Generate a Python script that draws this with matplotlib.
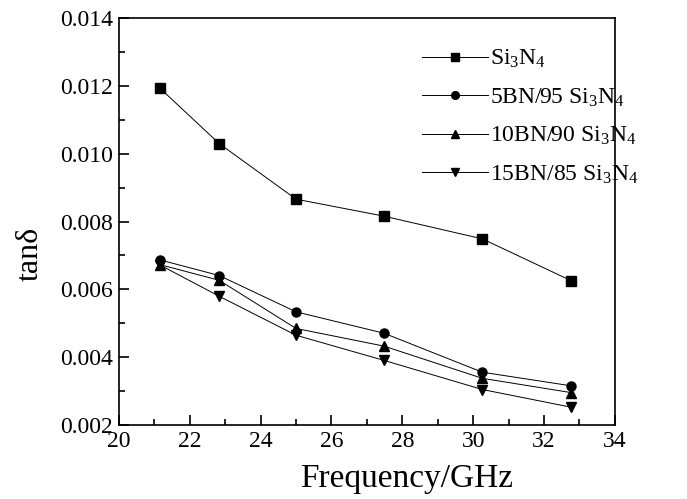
import matplotlib
matplotlib.use("Agg")
import matplotlib.pyplot as plt
from matplotlib.ticker import MultipleLocator, FormatStrFormatter

plt.rcParams['font.family'] = ['Liberation Serif', 'DejaVu Serif']
plt.rcParams['mathtext.fontset'] = 'custom'
plt.rcParams['mathtext.rm'] = 'Liberation Serif'
plt.rcParams['mathtext.it'] = 'Liberation Serif:italic'

freq = [21.16, 22.83, 25.0, 27.48, 30.26, 32.76]
si3n4 = [0.01193, 0.0103, 0.00866, 0.00816, 0.00749, 0.00626]
bn5 = [0.00687, 0.00641, 0.00534, 0.00471, 0.00356, 0.00316]
bn10 = [0.00673, 0.00627, 0.00485, 0.00433, 0.00338, 0.00296]
bn15 = [0.00672, 0.00580, 0.00465, 0.00391, 0.00305, 0.00253]

series = [
    (si3n4, 's', 'Si$_3$N$_4$'),
    (bn5, 'o', '5BN/95 Si$_3$N$_4$'),
    (bn10, '^', '10BN/90 Si$_3$N$_4$'),
    (bn15, 'v', '15BN/85 Si$_3$N$_4$'),
]

fig = plt.figure(figsize=(6.87, 4.99), dpi=100)
ax = fig.add_axes([0.173, 0.148, 0.722, 0.816])

for vals, mk, lab in series:
    ax.plot(freq, vals, color='black', lw=0.7, marker=mk, ms=6.5, label=lab)

ax.set_xlim(20, 34)
ax.set_ylim(0.002, 0.014)
ax.xaxis.set_major_locator(MultipleLocator(2))
ax.xaxis.set_minor_locator(MultipleLocator(1))
ax.yaxis.set_major_locator(MultipleLocator(0.002))
ax.yaxis.set_minor_locator(MultipleLocator(0.001))
ax.yaxis.set_major_formatter(FormatStrFormatter('%.3f'))
ax.tick_params(which='both', direction='in', labelsize=17, width=1.2)
ax.tick_params(which='major', length=7, pad=4)
ax.tick_params(which='minor', length=4)
for s in ax.spines.values():
    s.set_linewidth(1.2)

ax.set_xlabel('Frequency/GHz', fontsize=24)
ax.xaxis.set_label_coords(0.58, -0.095)
ax.set_ylabel('tanδ', fontsize=23)
ax.yaxis.set_label_coords(-0.15, 0.42)

ax.legend(loc='upper left', bbox_to_anchor=(0.568, 0.978), frameon=False,
          fontsize=17, handlelength=2.8, handletextpad=0.1, labelspacing=0.68,
          markerscale=0.85)

fig.savefig('out.png', dpi=100)
